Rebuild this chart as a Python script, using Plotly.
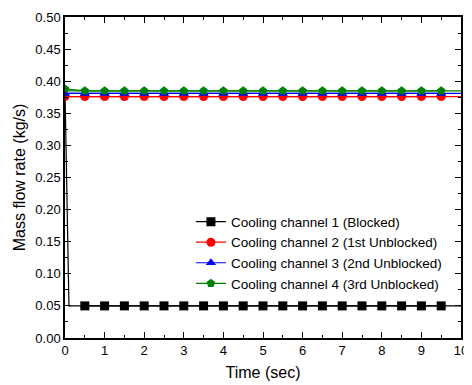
import plotly.graph_objects as go

time = [0, 0.1, 0.5, 1, 1.5, 2, 2.5, 3, 3.5, 4, 4.5, 5, 5.5, 6, 6.5, 7, 7.5, 8, 8.5, 9, 9.5, 10]
ch1 = [0.385, 0.05, 0.05, 0.05, 0.05, 0.05, 0.05, 0.05, 0.05, 0.05, 0.05, 0.05,
       0.05, 0.05, 0.05, 0.05, 0.05, 0.05, 0.05, 0.05, 0.05, 0.05]
ch2 = [0.376] * 22
ch3 = [0.381] * 22
ch4 = [0.388, 0.385, 0.385, 0.385, 0.385, 0.385, 0.385, 0.385, 0.385, 0.385, 0.385,
       0.385, 0.385, 0.385, 0.385, 0.385, 0.385, 0.385, 0.385, 0.385, 0.385, 0.385]
marker_times = [0, 0.5, 1, 1.5, 2, 2.5, 3, 3.5, 4, 4.5, 5, 5.5, 6, 6.5, 7, 7.5, 8, 8.5, 9, 9.5]

names = ["Cooling channel 1 (Blocked)", "Cooling channel 2 (1st Unblocked)",
         "Cooling channel 3 (2nd Unblocked)", "Cooling channel 4 (3rd Unblocked)"]
colors = ["#000000", "#ff0000", "#0000ff", "#008000"]
symbols = ["square", "circle", "triangle-up", "pentagon"]
series = [ch1, ch2, ch3, ch4]

fig = go.Figure()
for name, ys, c, s in zip(names, series, colors, symbols):
    fig.add_trace(go.Scatter(
        x=time, y=ys, mode="lines", showlegend=False, hoverinfo="skip",
        line=dict(color=c, width=1.2),
    ))
    mx = [t for t in marker_times]
    my = [ys[time.index(t)] for t in marker_times]
    if name == names[0]:
        mx, my = mx[1:], my[1:]
    fig.add_trace(go.Scatter(
        x=mx, y=my, name=name, mode="lines+markers",
        line=dict(color=c, width=1.2),
        marker=dict(symbol=s, color=c, size=9),
    ))

axis_common = dict(
    showline=True, linecolor="black", linewidth=1.5, mirror="ticks",
    ticks="inside", ticklen=6, tickcolor="black", tickwidth=1, showgrid=False, zeroline=False,
    automargin=False,
    tickfont=dict(size=13, color="black"),
)
fig.update_xaxes(range=[0, 10], dtick=1, title=dict(text="Time (sec)", font=dict(size=16), standoff=9),
                 minor=dict(ticks="inside", ticklen=3, tickcolor="black", dtick=0.5), **axis_common)
fig.update_yaxes(range=[0, 0.5], dtick=0.05, tickformat=".2f",
                 title=dict(text="Mass flow rate (kg/s)", font=dict(size=16), standoff=6),
                 minor=dict(ticks="inside", ticklen=3, tickcolor="black", dtick=0.025), **axis_common)

# the page body adds an 8px margin, so the figure is sized/offset to compensate
fig.update_layout(
    width=464, height=377,
    margin=dict(l=57, r=11, t=9, b=47),
    paper_bgcolor="white", plot_bgcolor="white",
    font=dict(family="Liberation Sans, Arial", color="black", size=13),
    legend=dict(x=0.318, y=0.41, xanchor="left", yanchor="top", bgcolor="rgba(0,0,0,0)",
                font=dict(size=13.5), tracegroupgap=0),
)
fig.write_html("out.html")
